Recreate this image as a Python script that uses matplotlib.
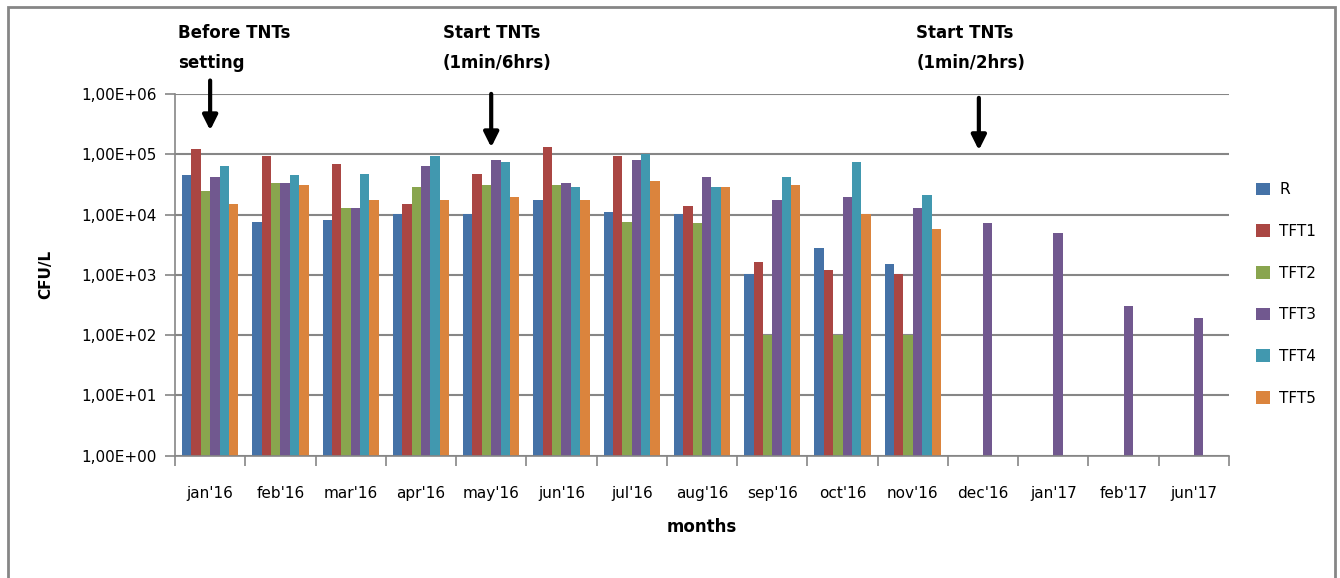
import numpy as np
import matplotlib
matplotlib.use("Agg")
import matplotlib.pyplot as plt
from matplotlib.patches import Rectangle

# Datos (CFU/L), NaN = sin valor
meses = ["jan'16", "feb'16", "mar'16", "apr'16", "may'16", "jun'16", "jul'16",
         "aug'16", "sep'16", "oct'16", "nov'16", "dec'16", "jan'17", "feb'17", "jun'17"]
nan = np.nan
R = [45000, 7500, 8100, 10200, 10200, 17400, 11000, 10200, 1050, 2770, 1520, nan, nan, nan, nan]
TFT1 = [122000, 93000, 69000, 14800, 46800, 132000, 93000, 13800, 1620, 1200, 1030, nan, nan, nan, nan]
TFT2 = [24500, 33000, 12800, 28600, 31000, 31000, 7500, 7300, 100, 100, 100, nan, nan, nan, nan]
TFT3 = [42000, 33000, 12800, 63500, 80000, 33000, 80000, 42000, 17400, 19500, 12800, 7200, 4900, 300, 190]
TFT4 = [63500, 45000, 47000, 93000, 74000, 28600, 100000, 28600, 42000, 74000, 21000, nan, nan, nan, nan]
TFT5 = [14800, 31000, 17400, 17400, 19500, 17400, 36000, 28600, 31000, 10200, 5800, nan, nan, nan, nan]

series = ["R", "TFT1", "TFT2", "TFT3", "TFT4", "TFT5"]
valores = [R, TFT1, TFT2, TFT3, TFT4, TFT5]
colores = ["#4572A7", "#AA4643", "#89A54E", "#71588F", "#4198AF", "#DB843D"]

# Anotaciones
notas = ["Before TNTs\nsetting", "Start TNTs\n(1min/6hrs)", "Start TNTs\n(1min/2hrs)"]

plt.rcParams['font.family'] = ['DejaVu Sans']

fig = plt.figure(figsize=(13.4, 5.78), dpi=100)
ax = fig.add_axes([175/1340, 1 - 455.7/578, (1229 - 175)/1340, (455.7 - 94)/578])

x = np.arange(len(meses))
w = 0.8 / len(series)
for i, (nombre, v, c) in enumerate(zip(series, valores, colores)):
    ax.bar(x + (i - 2.5) * w, v, w, color=c, label=nombre, bottom=0)

ax.set_yscale('log')
ax.set_ylim(1, 1e6)
ax.set_xlim(-0.5, len(meses) - 0.5)

yt = [10.0**k for k in range(7)]
ax.set_yticks(yt)
ax.set_yticklabels(["1,00E+0%d" % k for k in range(7)], fontsize=11)
ax.yaxis.set_minor_locator(matplotlib.ticker.NullLocator())
ax.set_xticks(x)
ax.set_xticklabels(meses, fontsize=11)
ax.set_xticks(np.arange(len(meses) + 1) - 0.5, minor=True)
ax.tick_params(axis='x', which='major', length=0, pad=22)
ax.tick_params(axis='x', which='minor', length=7, color='#868686', width=1.2)
ax.tick_params(axis='y', length=7, color='#868686', width=1.2, pad=6)

ax.grid(axis='y', which='major', color='#868686', lw=1.5)
ax.set_axisbelow(True)
for s in ['top', 'right']:
    ax.spines[s].set_visible(False)
for s in ['left', 'bottom']:
    ax.spines[s].set_color('#868686')
    ax.spines[s].set_linewidth(1.2)

ax.set_xlabel("months", fontsize=12, fontweight='bold', labelpad=12)
ax.set_ylabel("CFU/L", fontsize=11, fontweight='bold', labelpad=20)

# Flechas y textos
flechas = [(0.0, 1.045, 0.892), (4.0, 1.008, 0.845), (10.94, 0.997, 0.837)]
textos_x = [-0.455, 3.31, 10.05]
tr = ax.get_xaxis_transform()
for nota, (fx, y0, y1), tx in zip(notas, flechas, textos_x):
    ax.annotate("", xy=(fx, y1), xytext=(fx, y0), xycoords=tr, textcoords=tr,
                arrowprops=dict(arrowstyle='-|>', color='black', lw=3,
                                mutation_scale=22), annotation_clip=False)
    ax.text(tx, 1.128, nota, transform=tr, fontsize=12, fontweight='bold',
            va='center', ha='left', linespacing=1.85, clip_on=False)

fig.legend(loc='upper left', bbox_to_anchor=(1250/1340, 1 - 176/578), frameon=False,
           fontsize=11, labelspacing=1.75, handlelength=0.9, handleheight=0.9,
           handletextpad=0.6, borderaxespad=0)

fig.patches.append(Rectangle((8/1340, -0.01), (1335 - 8)/1340, 1 - 7/578 + 0.01,
                             transform=fig.transFigure, fill=False,
                             edgecolor='#868686', lw=2))

fig.savefig("out.png", dpi=100)
